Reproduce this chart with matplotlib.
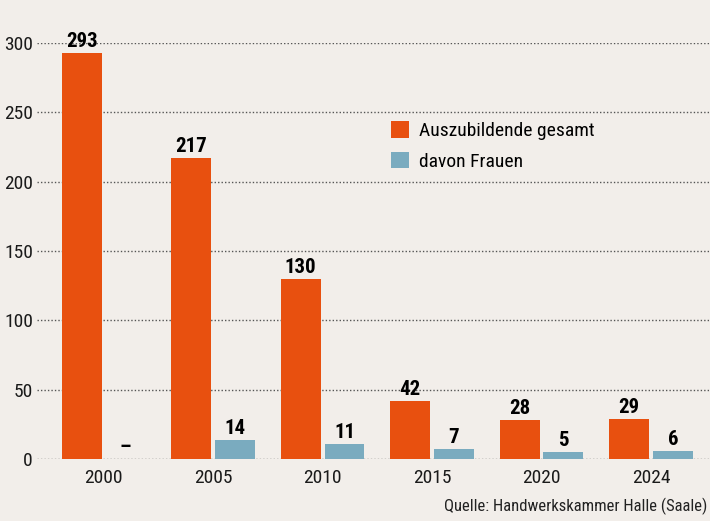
import matplotlib.pyplot as plt
from matplotlib import font_manager
import numpy as np

years = ["2000", "2005", "2010", "2015", "2020", "2024"]
gesamt = [293, 217, 130, 42, 28, 29]
frauen = [0, 14, 11, 7, 5, 6]
frauen_labels = ["–", "14", "11", "7", "5", "6"]
yticks = [0, 50, 100, 150, 200, 250, 300]

BG = "#f2eeea"
ORANGE = "#e8500f"
BLUE = "#7aabbf"

# pick a narrow font if one is around
names = {f.name for f in font_manager.fontManager.ttflist}
stretches = {(f.name, f.stretch) for f in font_manager.fontManager.ttflist}
family = 'DejaVu Sans'
for cand in ['Liberation Sans Narrow', 'Roboto Condensed', 'Open Sans Condensed']:
    if cand in names:
        family = cand
        break
plt.rcParams['font.family'] = [family, 'DejaVu Sans']
if family == 'DejaVu Sans' and any(n == 'DejaVu Sans' and s == 'condensed' for n, s in stretches):
    plt.rcParams['font.stretch'] = 'condensed'

fig = plt.figure(figsize=(7.1, 5.21), dpi=100, facecolor=BG)
ax = fig.add_axes([37 / 710, 62 / 521, 673 / 710, 416 / 521], facecolor=BG)

x = np.arange(len(years))
w = 0.365
off = 0.2
ax.bar(x - off, gesamt, w, color=ORANGE, label="Auszubildende gesamt", zorder=3)
ax.bar(x + off, frauen, w, color=BLUE, label="davon Frauen", zorder=3)

for i in range(len(years)):
    ax.text(x[i] - off, gesamt[i] + 1.5, str(gesamt[i]), ha='center', va='bottom',
            fontsize=15, fontweight='bold', clip_on=False, zorder=4)
    ax.text(x[i] + off, frauen[i] + 1.5, frauen_labels[i], ha='center', va='bottom',
            fontsize=15, fontweight='bold', zorder=4)

ax.set_xlim(-0.61, 5.54)
ax.set_ylim(0, 300)
ax.set_yticks(yticks)
ax.set_xticks(x)
ax.set_xticklabels(years)
ax.tick_params(length=0, labelsize=14, colors="#1a1a1a")
ax.tick_params(axis='y', pad=3)
ax.tick_params(axis='x', pad=7)
ax.yaxis.grid(True, linestyle=(0, (1, 1.5)), color="#555555", linewidth=1, zorder=1)
for s in ax.spines.values():
    s.set_visible(False)

ax.legend(loc='upper left', bbox_to_anchor=(0.515, 0.83), frameon=False, fontsize=14,
          handlelength=0.9, handleheight=0.9, handletextpad=0.5, labelspacing=0.6,
          borderaxespad=0)

fig.text(0.997, 0.012, "Quelle: Handwerkskammer Halle (Saale)", ha='right', va='bottom',
         fontsize=12, color="#222222")

fig.savefig("out.png", dpi=100, facecolor=BG)
